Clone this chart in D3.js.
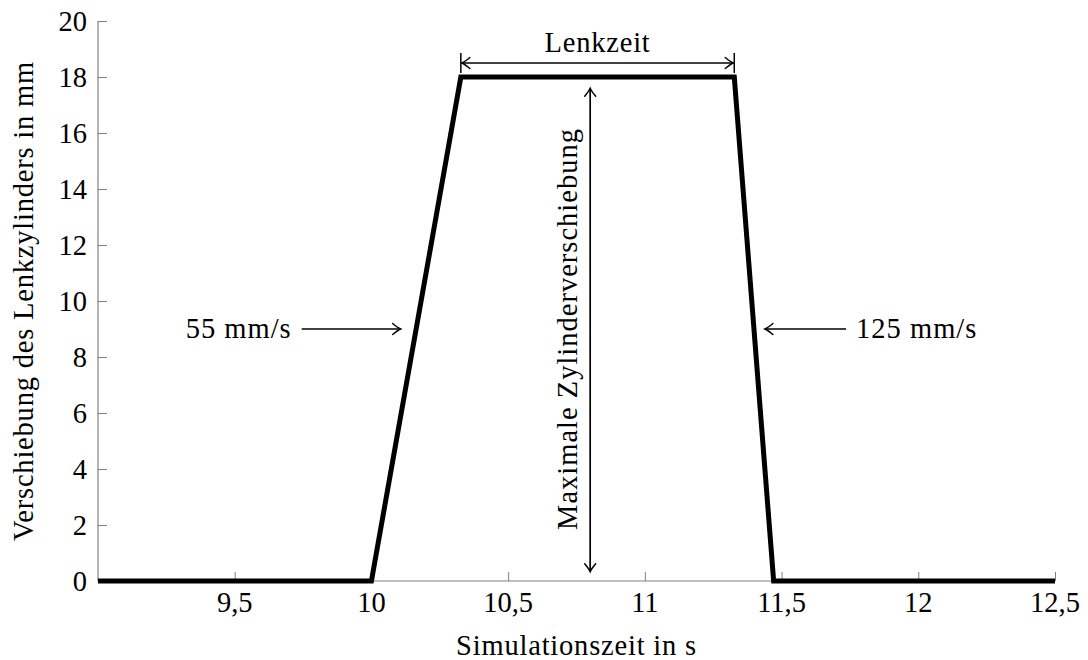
<!DOCTYPE html>
<html>
<head>
<meta charset="utf-8">
<script src="https://cdn.jsdelivr.net/npm/d3@7"></script>
<style>
  html, body { margin: 0; padding: 0; background: #fff; }
  svg text { font-family: "Liberation Serif", "Times New Roman", serif; fill: #000; }
</style>
</head>
<body>
<svg id="chart" width="1088" height="660"></svg>
<script>
// Cylinder displacement over simulation time (trapezoidal steering stroke)
const timeS = [9, 10, 10.327, 11.327, 11.471, 12.5];
const displacementMm = [0, 0, 18, 18, 0, 0];

const xTicks = [9.5, 10, 10.5, 11, 11.5, 12, 12.5];
const yTicks = [0, 2, 4, 6, 8, 10, 12, 14, 16, 18, 20];

const xLabel = "Simulationszeit in s";
const yLabel = "Verschiebung des Lenkzylinders in mm";

// annotations (data coordinates)
const riseLabel = "55 mm/s";
const riseArrow = { x0: 9.745, x1: 10.107, y: 9 };
const fallLabel = "125 mm/s";
const fallArrow = { x0: 11.736, x1: 11.439, y: 9 };
const steerLabel = "Lenkzeit";
const steerSpan = { x0: 10.327, x1: 11.327, y: 18.5 };
const strokeLabel = "Maximale Zylinderverschiebung";
const strokeArrow = { x: 10.8, y0: 0.33, y1: 17.6, labelY: 9 };

const svg = d3.select("#chart");
const plotLeft = 98, plotRight = 1055, plotTop = 21, plotBottom = 581;

const x = d3.scaleLinear().domain([9, 12.5]).range([plotLeft, plotRight]);
const y = d3.scaleLinear().domain([0, 20]).range([plotBottom, plotTop]);

const fmt = v => String(v).replace(".", ",");
const axisColor = "#808080";
const fontSize = 28.5;

// x axis (ticks pointing inward)
const gx = svg.append("g").attr("transform", `translate(0,${plotBottom})`)
  .call(d3.axisTop(x).tickValues(xTicks).tickSize(9).tickFormat(""));
gx.select(".domain").attr("stroke", axisColor).attr("stroke-width", 1.2).attr("d", `M${plotLeft},0H${plotRight}`);
gx.selectAll(".tick line").attr("stroke", axisColor).attr("stroke-width", 1);

svg.append("g").selectAll("text").data(xTicks).join("text")
  .attr("x", d => x(d)).attr("y", 612)
  .attr("text-anchor", "middle").attr("font-size", fontSize)
  .text(fmt);

// y axis
const gy = svg.append("g").attr("transform", `translate(${plotLeft},0)`)
  .call(d3.axisRight(y).tickValues(yTicks).tickSize(9).tickFormat(""));
gy.select(".domain").attr("stroke", axisColor).attr("stroke-width", 1.2).attr("d", `M0,${plotTop}V${plotBottom}`);
gy.selectAll(".tick line").attr("stroke", axisColor).attr("stroke-width", 1);

svg.append("g").selectAll("text").data(yTicks).join("text")
  .attr("x", 87).attr("y", d => y(d)).attr("dy", "0.34em")
  .attr("text-anchor", "end").attr("font-size", fontSize)
  .text(fmt);

// axis titles
svg.append("text")
  .attr("x", (plotLeft + plotRight) / 2).attr("y", 655)
  .attr("text-anchor", "middle").attr("font-size", fontSize).attr("letter-spacing", 0.8)
  .text(xLabel);

svg.append("text")
  .attr("transform", `translate(33,${(plotTop + plotBottom) / 2}) rotate(-90)`)
  .attr("text-anchor", "middle").attr("font-size", fontSize).attr("letter-spacing", 0.8)
  .text(yLabel);

// displacement curve
const pts = timeS.map((t, i) => [t, displacementMm[i]]);
svg.append("path").datum(pts)
  .attr("fill", "none").attr("stroke", "#000").attr("stroke-width", 5)
  .attr("stroke-linejoin", "miter")
  .attr("d", d3.line().x(d => x(d[0])).y(d => y(d[1])));

// open curved arrow tip at (px,py) pointing along angle (radians)
function arrowTip(g, px, py, angle) {
  g.append("path")
    .attr("d", "M-8,-5.5 Q-3,-1.3 0,0 Q-3,1.3 -8,5.5")
    .attr("transform", `translate(${px},${py}) rotate(${angle * 180 / Math.PI})`)
    .attr("fill", "none").attr("stroke", "#000").attr("stroke-width", 1.5)
    .attr("stroke-linecap", "round");
}

const ann = svg.append("g");

// rise rate
ann.append("line")
  .attr("x1", x(riseArrow.x0)).attr("x2", x(riseArrow.x1) - 1)
  .attr("y1", y(riseArrow.y)).attr("y2", y(riseArrow.y))
  .attr("stroke", "#000").attr("stroke-width", 1.7);
arrowTip(ann, x(riseArrow.x1), y(riseArrow.y), 0);
ann.append("text")
  .attr("x", x(riseArrow.x0) - 10).attr("y", y(riseArrow.y)).attr("dy", "0.3em")
  .attr("text-anchor", "end").attr("font-size", fontSize).attr("letter-spacing", 1)
  .text(riseLabel);

// fall rate
ann.append("line")
  .attr("x1", x(fallArrow.x0)).attr("x2", x(fallArrow.x1) + 1)
  .attr("y1", y(fallArrow.y)).attr("y2", y(fallArrow.y))
  .attr("stroke", "#000").attr("stroke-width", 1.7);
arrowTip(ann, x(fallArrow.x1), y(fallArrow.y), Math.PI);
ann.append("text")
  .attr("x", x(fallArrow.x0) + 10).attr("y", y(fallArrow.y)).attr("dy", "0.3em")
  .attr("text-anchor", "start").attr("font-size", fontSize).attr("letter-spacing", 1)
  .text(fallLabel);

// steering time span
const sy = y(steerSpan.y);
ann.append("line")
  .attr("x1", x(steerSpan.x0) + 1).attr("x2", x(steerSpan.x1) - 1)
  .attr("y1", sy).attr("y2", sy)
  .attr("stroke", "#000").attr("stroke-width", 1.7);
[steerSpan.x0, steerSpan.x1].forEach(v => {
  ann.append("line")
    .attr("x1", x(v)).attr("x2", x(v)).attr("y1", sy - 10).attr("y2", sy + 10)
    .attr("stroke", "#000").attr("stroke-width", 1.5);
});
arrowTip(ann, x(steerSpan.x0) + 1, sy, Math.PI);
arrowTip(ann, x(steerSpan.x1) - 1, sy, 0);
ann.append("text")
  .attr("x", (x(steerSpan.x0) + x(steerSpan.x1)) / 2).attr("y", sy - 11)
  .attr("text-anchor", "middle").attr("font-size", fontSize).attr("letter-spacing", 0.8)
  .text(steerLabel);

// maximum stroke
const vx = x(strokeArrow.x);
ann.append("line")
  .attr("x1", vx).attr("x2", vx)
  .attr("y1", y(strokeArrow.y0) - 1).attr("y2", y(strokeArrow.y1) + 1)
  .attr("stroke", "#000").attr("stroke-width", 1.7);
arrowTip(ann, vx, y(strokeArrow.y0), Math.PI / 2);
arrowTip(ann, vx, y(strokeArrow.y1), -Math.PI / 2);
ann.append("text")
  .attr("transform", `translate(${vx - 13},${y(strokeArrow.labelY)}) rotate(-90)`)
  .attr("text-anchor", "middle").attr("font-size", fontSize).attr("letter-spacing", 1)
  .text(strokeLabel);
</script>
</body>
</html>
